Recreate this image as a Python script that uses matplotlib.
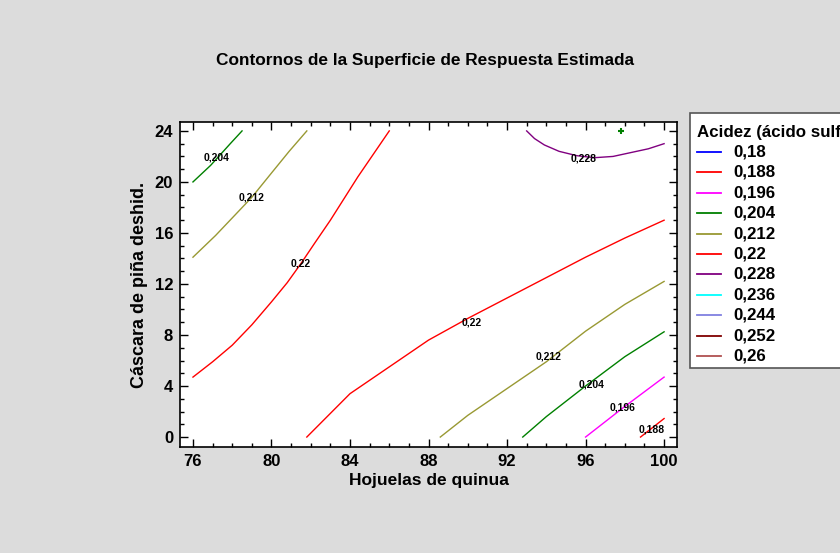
import matplotlib.pyplot as plt
from matplotlib.lines import Line2D
from matplotlib.patches import Rectangle
from matplotlib.ticker import MultipleLocator

plt.rcParams['font.family'] = ['Liberation Sans', 'DejaVu Sans']

# contour levels and colours (legend)
levels = ['0,18', '0,188', '0,196', '0,204', '0,212', '0,22', '0,228', '0,236', '0,244', '0,252', '0,26']
level_colors = ['#0000ff', '#ff0000', '#ff00ff', '#008000', '#999933', '#ff0000',
                '#800080', '#00ffff', '#8080e0', '#800000', '#b05050']

# contour lines (x = Hojuelas de quinua, y = Cascara de pina)
c204_a_x = [76.0, 76.9, 77.9, 78.5]
c204_a_y = [20.0, 21.3, 23.0, 24.0]
c212_a_x = [76.0, 77.15, 78.2, 79.0, 80.0, 80.9, 81.8]
c212_a_y = [14.1, 15.8, 17.5, 18.8, 20.7, 22.4, 24.0]
c220_a_x = [76.0, 77.0, 78.0, 79.0, 80.0, 80.8, 81.5, 82.2, 83.0, 83.7, 84.4, 85.2, 86.0]
c220_a_y = [4.7, 5.9, 7.2, 8.8, 10.6, 12.1, 13.6, 15.2, 17.0, 18.7, 20.4, 22.2, 24.0]
c220_b_x = [81.8, 84.0, 86.0, 88.0, 90.0, 92.0, 94.0, 96.0, 98.0, 100.0]
c220_b_y = [0.0, 3.4, 5.5, 7.6, 9.3, 10.9, 12.5, 14.1, 15.6, 17.0]
c212_b_x = [88.6, 90.0, 92.0, 94.0, 96.0, 98.0, 100.0]
c212_b_y = [0.0, 1.7, 3.8, 5.9, 8.3, 10.4, 12.2]
c204_b_x = [92.8, 94.0, 96.0, 98.0, 100.0]
c204_b_y = [0.0, 1.6, 4.0, 6.3, 8.25]
c196_x = [96.0, 98.0, 100.0]
c196_y = [0.0, 2.4, 4.7]
c188_x = [98.8, 100.0]
c188_y = [0.0, 1.45]
c228_x = [93.0, 93.4, 93.9, 94.65, 95.55, 96.45, 97.4, 98.3, 99.2, 100.0]
c228_y = [24.0, 23.4, 22.9, 22.4, 22.06, 21.9, 22.0, 22.3, 22.6, 23.0]

# inline labels
label_x = [77.2, 79.0, 81.5, 95.9, 90.2, 94.1, 96.3, 97.9, 99.35]
label_y = [21.9, 18.8, 13.6, 21.86, 9.0, 6.3, 4.1, 2.3, 0.58]
label_txt = ['0,204', '0,212', '0,22', '0,228', '0,22', '0,212', '0,204', '0,196', '0,188']

# optimum marker
opt_x = [97.8]
opt_y = [24.0]

fig = plt.figure(figsize=(8.4, 5.53), dpi=100, facecolor='#dcdcdc')
ax = fig.add_axes([0.2143, 0.1917, 0.5917, 0.5877])

segments = [('0,204', c204_a_x, c204_a_y), ('0,212', c212_a_x, c212_a_y),
            ('0,22', c220_a_x, c220_a_y), ('0,22', c220_b_x, c220_b_y),
            ('0,212', c212_b_x, c212_b_y), ('0,204', c204_b_x, c204_b_y),
            ('0,196', c196_x, c196_y), ('0,188', c188_x, c188_y),
            ('0,228', c228_x, c228_y)]
for lv, xs, ys in segments:
    ax.plot(xs, ys, color=level_colors[levels.index(lv)], lw=1.0)

for x, y, t in zip(label_x, label_y, label_txt):
    ax.text(x, y, t, fontsize=7.5, fontweight='bold', ha='center', va='center')

ax.plot(opt_x, opt_y, marker='+', color='#008000', ms=5, mew=1.5, ls='none')

ax.set_xlim(75.34, 100.66)
ax.set_ylim(-0.78, 24.7)
ax.xaxis.set_major_locator(MultipleLocator(4))
ax.xaxis.set_minor_locator(MultipleLocator(1))
ax.yaxis.set_major_locator(MultipleLocator(4))
ax.yaxis.set_minor_locator(MultipleLocator(1))
ax.tick_params(which='both', direction='in', top=True, right=True, width=1.0)
ax.tick_params(which='major', length=6, labelsize=12, pad=5)
ax.tick_params(which='minor', length=3)
for lab in ax.get_xticklabels() + ax.get_yticklabels():
    lab.set_fontweight('bold')
for sp in ax.spines.values():
    sp.set_linewidth(1.2)

ax.set_xlabel('Hojuelas de quinua', fontsize=12.5, fontweight='bold', labelpad=3)
ax.set_ylabel('Cáscara de piña deshid.', fontsize=13, fontweight='bold', labelpad=5)
fig.text(425 / 840, 1 - 60 / 553, 'Contornos de la Superficie de Respuesta Estimada',
         fontsize=12.4, fontweight='bold', ha='center', va='center')

# legend box drawn by hand (runs off the right edge like the original)
W, H = 840, 553
fig.add_artist(Rectangle((690 / W, 1 - 368 / H), 200 / W, 255 / H, transform=fig.transFigure,
                         facecolor='white', edgecolor='#555555', lw=1.2))
fig.text(697 / W, 1 - 132 / H, 'Acidez (ácido sulfúrico)', fontsize=12.2,
         fontweight='bold', ha='left', va='center')
for i, (lv, c) in enumerate(zip(levels, level_colors)):
    yy = 1 - (152 + i * 20.4) / H
    fig.add_artist(Line2D([697 / W, 721 / W], [yy, yy], transform=fig.transFigure, color=c, lw=1.3))
    fig.text(733 / W, yy, lv, fontsize=12.2, fontweight='bold', ha='left', va='center')

plt.savefig('out.png', dpi=100, facecolor=fig.get_facecolor())
